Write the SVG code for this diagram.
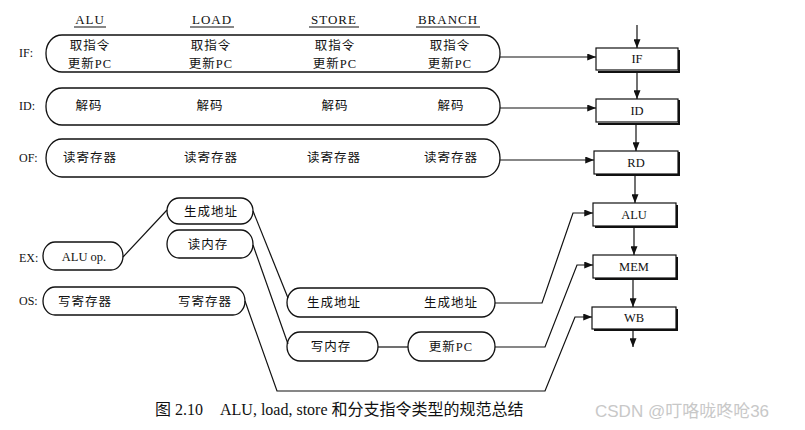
<svg xmlns="http://www.w3.org/2000/svg" width="805" height="430" viewBox="0 0 805 430">
<style>
.bg{fill:#fff}
.pill{fill:none;stroke:#111;stroke-width:1.3}
.t{font-family:"Liberation Serif","Noto Sans CJK SC",serif;font-size:12.5px;fill:#111;text-anchor:middle}
.cn{font-family:"Liberation Serif","Noto Sans CJK SC",serif;font-size:12.5px;fill:#111;text-anchor:middle;letter-spacing:1px}
.hd{font-family:"Liberation Serif",serif;font-size:13px;fill:#111;text-anchor:middle;letter-spacing:1px}
.lb{font-family:"Liberation Serif",serif;font-size:12px;fill:#111;text-anchor:start}
.st{font-family:"Liberation Serif",serif;font-size:12.5px;fill:#111;text-anchor:middle}
.box{fill:#fff;stroke:#111;stroke-width:1.2}
.sh{fill:none;stroke:#111;stroke-width:2}
.ln{fill:none;stroke:#111;stroke-width:1.2}
.cap{font-family:"Liberation Serif","Noto Sans CJK SC",serif;font-size:16px;fill:#111}
.wm{font-family:"Liberation Sans","Noto Sans CJK SC",sans-serif;font-size:17px;fill:#c8c8c8}
</style>
<defs>
<marker id="ah" viewBox="0 0 10 8" refX="10" refY="4" markerWidth="9" markerHeight="7" markerUnits="userSpaceOnUse" orient="auto">
<path d="M0,0 L10,4 L0,8 Z" fill="#111"/>
</marker>
</defs>
<rect class="bg" x="0" y="0" width="805" height="430"/>

<g id="headers">
<text class="hd" x="90" y="24">ALU</text>
<text class="hd" x="212" y="24">LOAD</text>
<text class="hd" x="334" y="24">STORE</text>
<text class="hd" x="448" y="24">BRANCH</text>
<path class="ln" d="M74,27H106 M190,27H234 M309,27H359 M416,27H480"/>
</g>

<g id="labels">
<text class="lb" x="19" y="57">IF:</text>
<text class="lb" x="19" y="110">ID:</text>
<text class="lb" x="19" y="162">OF:</text>
<text class="lb" x="19" y="262">EX:</text>
<text class="lb" x="19" y="305">OS:</text>
</g>

<g id="row-if">
<rect class="pill" x="46" y="35" width="454" height="37" rx="16" ry="18"/>
<text class="cn" x="90" y="50">取指令</text>
<text class="cn" x="90" y="68">更新PC</text>
<text class="cn" x="211" y="50">取指令</text>
<text class="cn" x="211" y="68">更新PC</text>
<text class="cn" x="335" y="50">取指令</text>
<text class="cn" x="335" y="68">更新PC</text>
<text class="cn" x="450" y="50">取指令</text>
<text class="cn" x="450" y="68">更新PC</text>
</g>

<g id="row-id">
<rect class="pill" x="46" y="88" width="454" height="37" rx="16" ry="18"/>
<text class="cn" x="89" y="110">解码</text>
<text class="cn" x="210" y="110">解码</text>
<text class="cn" x="335" y="110">解码</text>
<text class="cn" x="451" y="110">解码</text>
</g>

<g id="row-of">
<rect class="pill" x="46" y="139" width="454" height="38" rx="16" ry="19"/>
<text class="cn" x="90" y="162">读寄存器</text>
<text class="cn" x="211" y="162">读寄存器</text>
<text class="cn" x="334" y="162">读寄存器</text>
<text class="cn" x="451" y="162">读寄存器</text>
</g>

<g id="ex-aluop">
<rect class="pill" x="43" y="242" width="80" height="28" rx="12" ry="14"/>
<text class="t" x="84" y="261">ALU op.</text>
</g>

<g id="ex-addr">
<rect class="pill" x="167" y="198" width="86" height="26" rx="12" ry="13"/>
<text class="cn" x="211" y="216">生成地址</text>
</g>

<g id="ex-readmem">
<rect class="pill" x="167" y="230" width="86" height="28" rx="12" ry="14"/>
<text class="cn" x="208" y="249">读内存</text>
</g>

<g id="os-writereg">
<rect class="pill" x="43" y="287" width="202" height="28" rx="12" ry="14"/>
<text class="cn" x="85" y="306">写寄存器</text>
<text class="cn" x="205" y="306">写寄存器</text>
</g>

<g id="mem-addr">
<rect class="pill" x="287" y="288" width="208" height="29" rx="13" ry="14.5"/>
<text class="cn" x="334" y="307">生成地址</text>
<text class="cn" x="451" y="307">生成地址</text>
</g>

<g id="mem-writemem">
<rect class="pill" x="287" y="332" width="91" height="29" rx="13" ry="14.5"/>
<text class="cn" x="331" y="351">写内存</text>
</g>

<g id="mem-updatepc">
<rect class="pill" x="408" y="332" width="87" height="29" rx="13" ry="14.5"/>
<text class="cn" x="451" y="351">更新PC</text>
</g>

<g id="stage-if">
<path class="sh" d="M679,50V72H598"/>
<rect class="box" x="596" y="48" width="82" height="22"/>
<text class="st" x="637" y="63">IF</text>
</g>
<g id="stage-id">
<path class="sh" d="M679,100V124H598"/>
<rect class="box" x="596" y="99" width="82" height="23"/>
<text class="st" x="637" y="115">ID</text>
</g>
<g id="stage-rd">
<path class="sh" d="M679,152V175H596"/>
<rect class="box" x="594" y="151" width="84" height="23"/>
<text class="st" x="636" y="167">RD</text>
</g>
<g id="stage-alu">
<path class="sh" d="M677,205V227H595"/>
<rect class="box" x="593" y="203" width="83" height="23"/>
<text class="st" x="634" y="219">ALU</text>
</g>
<g id="stage-mem">
<path class="sh" d="M677,257V279H595"/>
<rect class="box" x="593" y="255" width="83" height="23"/>
<text class="st" x="634" y="271">MEM</text>
</g>
<g id="stage-wb">
<path class="sh" d="M677,309V330H594"/>
<rect class="box" x="592" y="307" width="84" height="22"/>
<text class="st" x="634" y="322">WB</text>
</g>

<g id="connectors">
<path class="ln" d="M637,25V48" marker-end="url(#ah)"/>
<path class="ln" d="M637,72V99" marker-end="url(#ah)"/>
<path class="ln" d="M636,124V151" marker-end="url(#ah)"/>
<path class="ln" d="M635,175V203" marker-end="url(#ah)"/>
<path class="ln" d="M634,227V255" marker-end="url(#ah)"/>
<path class="ln" d="M633,279V307" marker-end="url(#ah)"/>
<path class="ln" d="M633,330V347" marker-end="url(#ah)"/>
<path class="ln" d="M500,57H596" marker-end="url(#ah)"/>
<path class="ln" d="M500,108H596" marker-end="url(#ah)"/>
<path class="ln" d="M500,160H594" marker-end="url(#ah)"/>
<path class="ln" d="M123,257L167,210"/>
<path class="ln" d="M253,211L288,298"/>
<path class="ln" d="M253,245L288,344"/>
<path class="ln" d="M245,301L277,391H545L575,317H592" marker-end="url(#ah)"/>
<path class="ln" d="M495,303H542L573,213H593" marker-end="url(#ah)"/>
<path class="ln" d="M378,347H408"/>
<path class="ln" d="M495,347H545L577,265H593" marker-end="url(#ah)"/>
</g>

<g id="caption">
<text class="cap" x="155" y="415">图 2.10<tspan x="220">ALU, load, store 和分支指令类型的规范总结</tspan></text>
</g>
<text class="wm" x="595" y="417">CSDN @叮咯咙咚呛36</text>
</svg>
